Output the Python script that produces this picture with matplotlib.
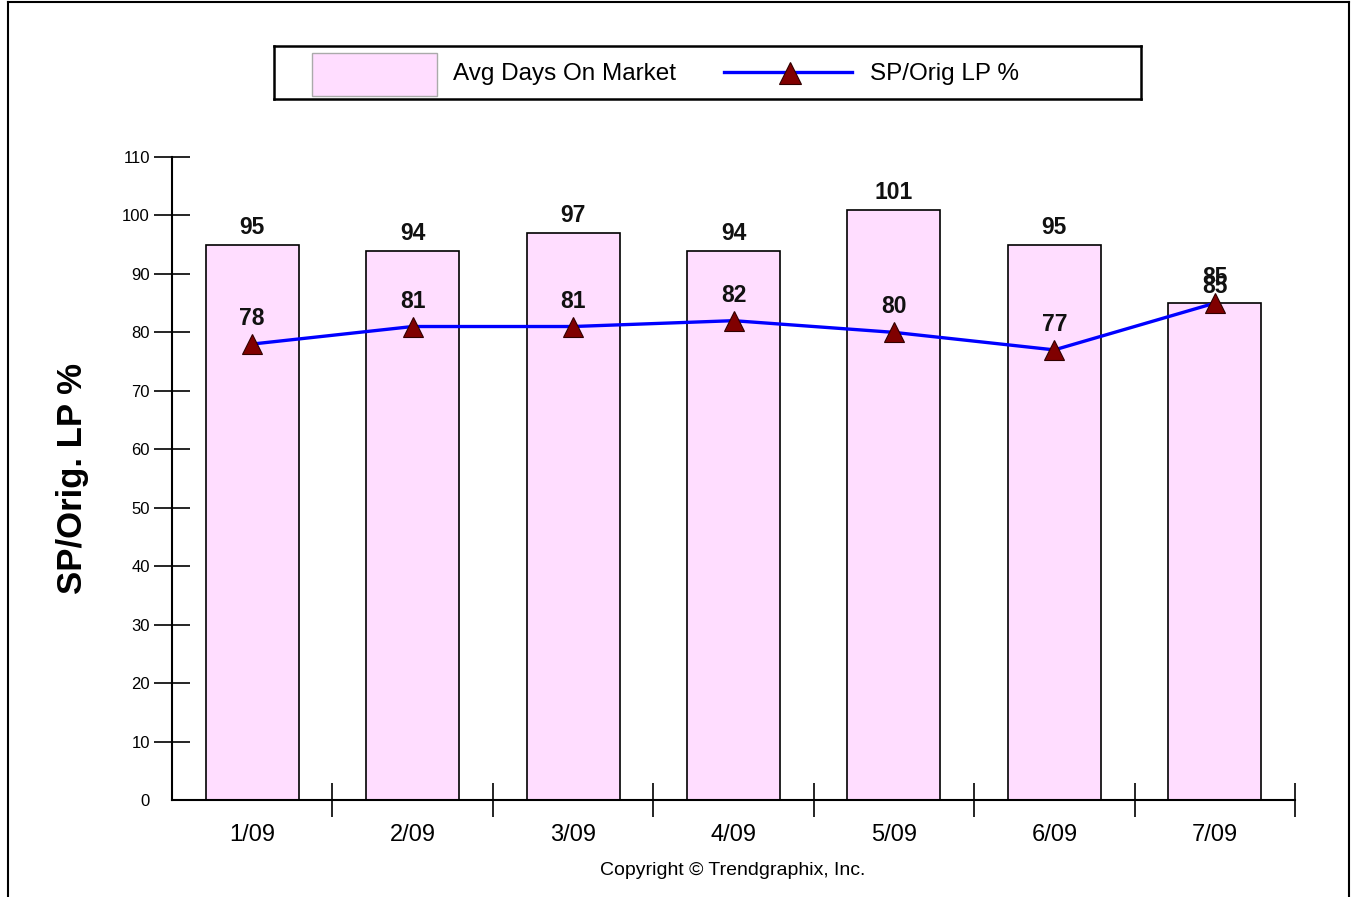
import matplotlib
matplotlib.use("Agg")
import matplotlib.pyplot as plt
from matplotlib.lines import Line2D
from matplotlib.patches import Rectangle

categories = ["1/09", "2/09", "3/09", "4/09", "5/09", "6/09", "7/09"]
avg_days = [95, 94, 97, 94, 101, 95, 85]
sp_orig_lp = [78, 81, 81, 82, 80, 77, 85]
y_ticks = list(range(0, 111, 10))

W, H = 1351, 897
plt.rcParams['font.family'] = ['Liberation Sans', 'DejaVu Sans']
fig = plt.figure(figsize=(W / 100, H / 100), dpi=100)

def fx(px):
    return px / W

def fy(py):
    return 1 - py / H

# outer border
fig.add_artist(Line2D([fx(8), fx(8)], [fy(897), fy(2)], color='black', lw=1.5, transform=fig.transFigure))
fig.add_artist(Line2D([fx(8), fx(1349)], [fy(2), fy(2)], color='black', lw=1.5, transform=fig.transFigure))
fig.add_artist(Line2D([fx(1349), fx(1349)], [fy(2), fy(897)], color='black', lw=1.5, transform=fig.transFigure))

ax = fig.add_axes([fx(172), fy(800), fx(1295) - fx(172), fy(157) - fy(800)])
x = list(range(len(categories)))
bar_color = '#FFDDFF'
bars = ax.bar(x, avg_days, width=0.58, color=bar_color, edgecolor='black', linewidth=1.2, zorder=2)
line, = ax.plot(x, sp_orig_lp, color='#0000FF', lw=2.4, marker='^', markersize=14,
                markerfacecolor='#800000', markeredgecolor='#300000', markeredgewidth=0.8, zorder=4)

for xi, v in zip(x, avg_days):
    ax.annotate(str(v), (xi, v), xytext=(0, 4), textcoords='offset points',
                ha='center', va='bottom', fontsize=16.5, fontweight='bold', color='#111111', zorder=5)
for xi, v in zip(x, sp_orig_lp):
    ax.annotate(str(v), (xi, v), xytext=(0, 10), textcoords='offset points',
                ha='center', va='bottom', fontsize=16.5, fontweight='bold', color='#111111', zorder=5)

ax.set_xlim(-0.5, len(categories) - 0.5)
ax.set_ylim(0, 110)
ax.set_yticks(y_ticks)
ax.set_yticklabels([str(t) for t in y_ticks], fontsize=12)
ax.tick_params(axis='y', direction='inout', length=26, width=1.2, pad=3, colors='black')
ax.yaxis.get_major_ticks()[0].tick1line.set_visible(False)

ax.set_xticks(x)
ax.set_xticklabels(categories, fontsize=17)
ax.tick_params(axis='x', which='major', length=0, pad=17)
ax.set_xticks([i + 0.5 for i in x], minor=True)
ax.tick_params(axis='x', which='minor', direction='inout', length=24, width=1.2)

for s in ['top', 'right']:
    ax.spines[s].set_visible(False)
for s in ['left', 'bottom']:
    ax.spines[s].set_linewidth(1.5)

ax.set_ylabel("SP/Orig. LP %", fontsize=25, fontweight='bold')
ax.yaxis.set_label_coords(-0.074, 0.5)

fig.text(fx(733), fy(870), "Copyright \u00a9 Trendgraphix, Inc.", ha='center', va='center', fontsize=14)

# legend
lax = fig.add_axes([fx(274), fy(99), fx(1141) - fx(274), fy(46) - fy(99)])
lax.set_xlim(274, 1141)
lax.set_ylim(99, 46)
lax.set_xticks([])
lax.set_yticks([])
for s in lax.spines.values():
    s.set_linewidth(1.8)
lax.add_patch(Rectangle((312, 53), 125, 43, facecolor=bar_color, edgecolor='#aaaaaa', lw=1))
lax.text(453, 74, "Avg Days On Market", ha='left', va='center', fontsize=17.5)
lax.plot([724, 852], [72, 72], color=line.get_color(), lw=line.get_linewidth())
lax.plot([790], [73], marker='^', markersize=16, markerfacecolor='#800000',
         markeredgecolor='#300000', markeredgewidth=0.8, linestyle='none')
lax.text(870, 74, "SP/Orig LP %", ha='left', va='center', fontsize=17.5)

fig.savefig("out.png", dpi=100)
